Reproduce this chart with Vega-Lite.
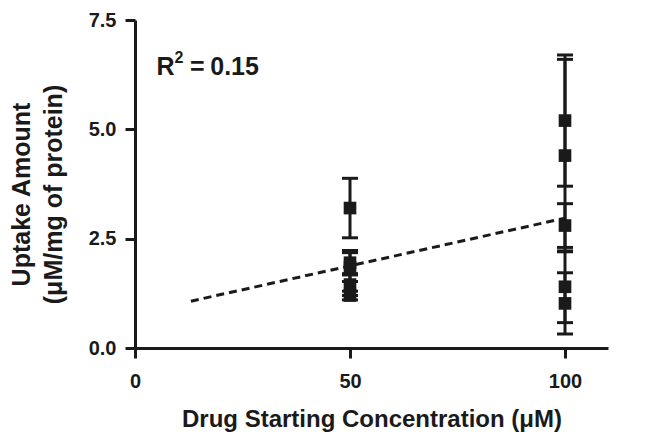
{
  "$schema": "https://vega.github.io/schema/vega-lite/v6.json",
  "width": 473,
  "height": 328,
  "autosize": "none",
  "padding": {"left": 135, "top": 20, "right": 37, "bottom": 99},
  "background": "white",
  "config": {
    "view": {"stroke": null},
    "font": "Liberation Sans",
    "axis": {
      "grid": false,
      "domainColor": "#1a1a1a",
      "domainWidth": 3,
      "tickColor": "#1a1a1a",
      "tickWidth": 3,
      "tickSize": 10,
      "labelFont": "Liberation Sans",
      "labelFontWeight": "bold",
      "labelFontSize": 20,
      "labelColor": "#1a1a1a",
      "titleFont": "Liberation Sans",
      "titleFontWeight": "bold",
      "titleFontSize": 24,
      "titleColor": "#1a1a1a"
    }
  },
  "datasets": {
    "points": [
      {"conc": 50, "uptake": 3.2, "low": 2.52, "high": 3.88},
      {"conc": 50, "uptake": 1.95, "low": 1.67, "high": 2.23},
      {"conc": 50, "uptake": 1.85, "low": 1.52, "high": 2.18},
      {"conc": 50, "uptake": 1.45, "low": 1.2, "high": 1.7},
      {"conc": 50, "uptake": 1.2, "low": 1.1, "high": 1.3},
      {"conc": 100, "uptake": 5.2, "low": 3.7, "high": 6.7},
      {"conc": 100, "uptake": 4.4, "low": 2.2, "high": 6.6},
      {"conc": 100, "uptake": 2.8, "low": 2.3, "high": 3.3},
      {"conc": 100, "uptake": 1.4, "low": 0.58, "high": 2.22},
      {"conc": 100, "uptake": 1.02, "low": 0.32, "high": 1.72}
    ],
    "fit": [
      {"conc": 13, "uptake": 1.07},
      {"conc": 100, "uptake": 2.97}
    ],
    "note": [
      {"r2": 0.15}
    ]
  },
  "layer": [
    {
      "data": {"name": "fit"},
      "mark": {"type": "line", "color": "#1a1a1a", "strokeWidth": 3, "strokeDash": [8, 5]},
      "encoding": {
        "x": {
          "field": "conc",
          "type": "quantitative",
          "scale": {"domain": [0, 110], "nice": false},
          "axis": {
            "values": [0, 50, 100],
            "title": "Drug Starting Concentration (μM)",
            "labelPadding": 13,
            "titlePadding": 16,
            "labelFlush": false
          }
        },
        "y": {
          "field": "uptake",
          "type": "quantitative",
          "scale": {"domain": [0, 7.5], "nice": false},
          "axis": {
            "values": [0, 2.5, 5, 7.5],
            "format": ".1f",
            "title": ["Uptake Amount", "(μM/mg of protein)"],
            "labelPadding": 9,
            "titlePadding": 22,
            "titleLineHeight": 32,
            "titleFontSize": 25,
            "titleY": 174,
            "labelFlush": false
          }
        }
      }
    },
    {
      "data": {"name": "points"},
      "mark": {"type": "rule", "color": "#1a1a1a", "strokeWidth": 3},
      "encoding": {
        "x": {"field": "conc", "type": "quantitative"},
        "y": {"field": "low", "type": "quantitative"},
        "y2": {"field": "high"}
      }
    },
    {
      "data": {"name": "points"},
      "mark": {"type": "tick", "orient": "horizontal", "color": "#1a1a1a", "opacity": 1, "size": 16, "thickness": 3},
      "encoding": {
        "x": {"field": "conc", "type": "quantitative"},
        "y": {"field": "low", "type": "quantitative"}
      }
    },
    {
      "data": {"name": "points"},
      "mark": {"type": "tick", "orient": "horizontal", "color": "#1a1a1a", "opacity": 1, "size": 16, "thickness": 3},
      "encoding": {
        "x": {"field": "conc", "type": "quantitative"},
        "y": {"field": "high", "type": "quantitative"}
      }
    },
    {
      "data": {"name": "points"},
      "mark": {"type": "square", "color": "#1a1a1a", "opacity": 1, "size": 160},
      "encoding": {
        "x": {"field": "conc", "type": "quantitative"},
        "y": {"field": "uptake", "type": "quantitative"}
      }
    },
    {
      "data": {"name": "note"},
      "mark": {"type": "text", "align": "left", "baseline": "alphabetic", "font": "Liberation Sans", "fontWeight": "bold", "fontSize": 25, "color": "#1a1a1a", "text": "R"},
      "encoding": {"x": {"datum": 5.0, "type": "quantitative"}, "y": {"datum": 6.24, "type": "quantitative"}}
    },
    {
      "data": {"name": "note"},
      "mark": {"type": "text", "align": "left", "baseline": "alphabetic", "font": "Liberation Sans", "fontWeight": "bold", "fontSize": 16, "color": "#1a1a1a", "text": "2"},
      "encoding": {"x": {"datum": 9.2, "type": "quantitative"}, "y": {"datum": 6.52, "type": "quantitative"}}
    },
    {
      "data": {"name": "note"},
      "mark": {"type": "text", "align": "left", "baseline": "alphabetic", "font": "Liberation Sans", "fontWeight": "bold", "fontSize": 25, "color": "#1a1a1a", "text": "="},
      "encoding": {"x": {"datum": 12.8, "type": "quantitative"}, "y": {"datum": 6.24, "type": "quantitative"}}
    },
    {
      "data": {"name": "note"},
      "mark": {"type": "text", "align": "left", "baseline": "alphabetic", "font": "Liberation Sans", "fontWeight": "bold", "fontSize": 25, "color": "#1a1a1a"},
      "encoding": {
        "x": {"datum": 17.5, "type": "quantitative"},
        "y": {"datum": 6.24, "type": "quantitative"},
        "text": {"field": "r2", "type": "quantitative", "format": ".2f"}
      }
    }
  ]
}
